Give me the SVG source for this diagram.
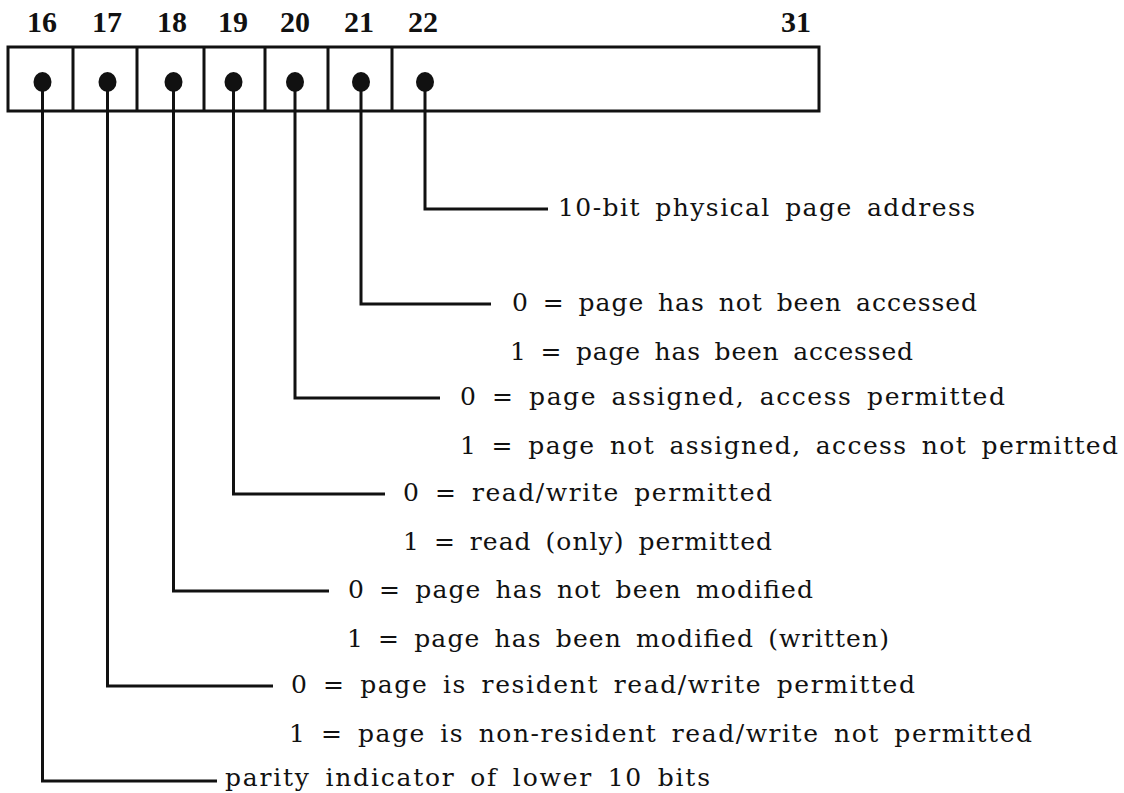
<svg xmlns="http://www.w3.org/2000/svg" width="1124" height="793" viewBox="0 0 1124 793">
  <style>
    .bitno { font-family: "Liberation Serif", "Times New Roman", serif; font-weight: bold; font-size: 30px; fill: #111; text-anchor: middle; }
    .desc { font-family: "DejaVu Serif", "Liberation Serif", serif; font-size: 25px; word-spacing: 5px; fill: #111; }
    .frame { fill: none; stroke: #111; stroke-width: 3; }
    .wire { fill: none; stroke: #111; stroke-width: 3; stroke-linejoin: miter; }
    .dot { fill: #111; }
  </style>
  <rect width="1124" height="793" fill="#fff"/>

  <!-- bit numbers -->
  <g id="bit-numbers">
    <text class="bitno" x="42" y="32">16</text>
    <text class="bitno" x="107" y="32">17</text>
    <text class="bitno" x="172" y="32">18</text>
    <text class="bitno" x="233" y="32">19</text>
    <text class="bitno" x="295" y="32">20</text>
    <text class="bitno" x="359" y="32">21</text>
    <text class="bitno" x="423" y="32">22</text>
    <text class="bitno" x="796" y="32">31</text>
  </g>

  <!-- register word with field dividers -->
  <g id="register">
    <rect class="frame" x="8" y="47" width="811" height="64"/>
    <path class="frame" d="M73 47V111M137 47V111M204 47V111M265 47V111M328 47V111M392 47V111"/>
  </g>

  <!-- leader lines from each field to its description -->
  <g id="connectors">
    <path class="wire" d="M42.5 82V781H217"/>
    <path class="wire" d="M107.5 82V686H273"/>
    <path class="wire" d="M173.5 82V591H329"/>
    <path class="wire" d="M233.5 82V494H385"/>
    <path class="wire" d="M295 82V398H440"/>
    <path class="wire" d="M361 82V304H491"/>
    <path class="wire" d="M425 82V209H548"/>
  </g>

  <g id="field-22">
    <ellipse class="dot" cx="425" cy="82" rx="9" ry="10"/>
    <text class="desc" x="558" y="216" textLength="417" lengthAdjust="spacing">10-bit physical page address</text>
  </g>
  <g id="field-21">
    <ellipse class="dot" cx="361" cy="82" rx="9" ry="10"/>
    <text class="desc" x="512" y="311" textLength="465" lengthAdjust="spacing">0 = page has not been accessed</text>
    <text class="desc" x="510" y="360" textLength="403" lengthAdjust="spacing">1 = page has been accessed</text>
  </g>
  <g id="field-20">
    <ellipse class="dot" cx="295" cy="82" rx="9" ry="10"/>
    <text class="desc" x="460" y="405" textLength="545" lengthAdjust="spacing">0 = page assigned, access permitted</text>
    <text class="desc" x="460" y="454" textLength="658" lengthAdjust="spacing">1 = page not assigned, access not permitted</text>
  </g>
  <g id="field-19">
    <ellipse class="dot" cx="233.5" cy="82" rx="9" ry="10"/>
    <text class="desc" x="403" y="501" textLength="369" lengthAdjust="spacing">0 = read/write permitted</text>
    <text class="desc" x="403" y="550" textLength="369" lengthAdjust="spacing">1 = read (only) permitted</text>
  </g>
  <g id="field-18">
    <ellipse class="dot" cx="173.5" cy="82" rx="9" ry="10"/>
    <text class="desc" x="348" y="598" textLength="465" lengthAdjust="spacing">0 = page has not been modified</text>
    <text class="desc" x="347" y="647" textLength="542" lengthAdjust="spacing">1 = page has been modified (written)</text>
  </g>
  <g id="field-17">
    <ellipse class="dot" cx="107.5" cy="82" rx="9" ry="10"/>
    <text class="desc" x="291" y="693" textLength="624" lengthAdjust="spacing">0 = page is resident read/write permitted</text>
    <text class="desc" x="289" y="742" textLength="743" lengthAdjust="spacing">1 = page is non-resident read/write not permitted</text>
  </g>
  <g id="field-16">
    <ellipse class="dot" cx="42.5" cy="82" rx="9" ry="10"/>
    <text class="desc" x="225" y="786" textLength="485" lengthAdjust="spacing">parity indicator of lower 10 bits</text>
  </g>
</svg>
